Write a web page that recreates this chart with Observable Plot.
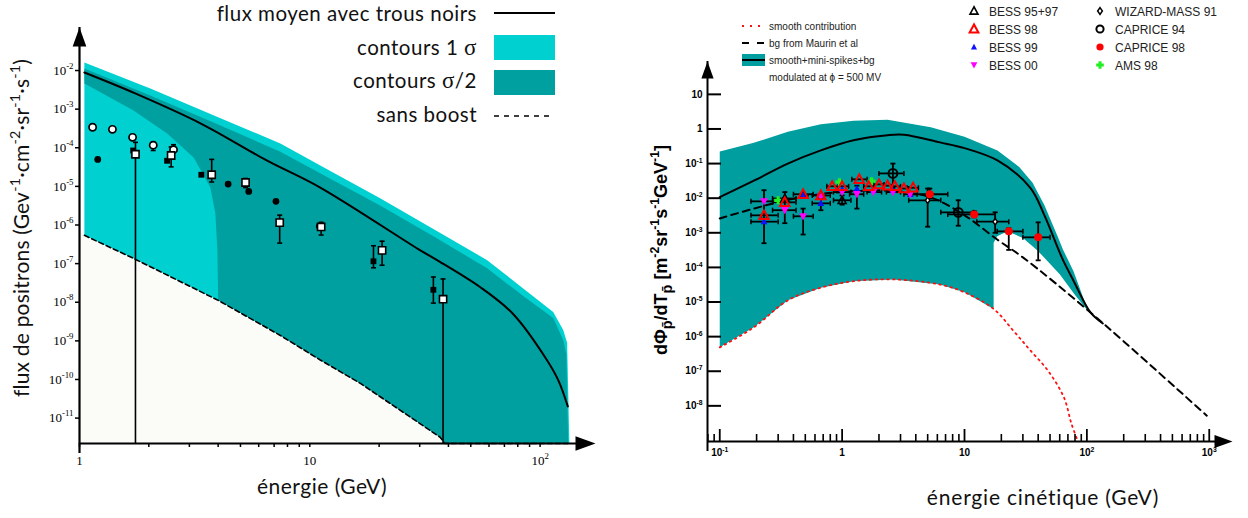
<!DOCTYPE html>
<html>
<head>
<meta charset="utf-8">
<script src="https://cdn.jsdelivr.net/npm/d3@7"></script>
<script src="https://cdn.jsdelivr.net/npm/@observablehq/plot@0.6"></script>
<style>
  html, body { margin: 0; padding: 0; background: #fff; color: #000; }
  #wrap { position: relative; width: 1248px; height: 518px; overflow: hidden; }
  #wrap svg { position: absolute; top: 0; }
</style>
</head>
<body>
<div id="wrap"></div>
<script>
// ===================== LEFT PANEL : positron flux =====================
const posFloor = 2.2e-12, posTop = 0.13, posEmin = 1, posEmax = 174;
const posYTicks = [1e-2, 1e-3, 1e-4, 1e-5, 1e-6, 1e-7, 1e-8, 1e-9, 1e-10, 1e-11];
const posXTicks = [1, 2, 3, 4, 5, 6, 7, 8, 9, 10, 20, 30, 40, 50, 60, 70, 80, 90, 100];
const posXLabels = [1, 10, 100];

// mean flux with black holes (solid)
const posMean = [[1.05, 8.9e-3], [1.71, 2.7e-3], [3.35, 4.3e-4], [6.5, 4.7e-5], [11.1, 9.3e-6], [30.2, 2.2e-7],
  [35.7, 1.23e-7], [55, 2.45e-8], [76, 5.1e-9], [107, 3.2e-10], [120, 9.5e-11], [132, 2.0e-11]];
// 1 sigma contour (upper edge)
const posSigma1Upper = [[1.05, 1.62e-2], [2.03, 3.4e-3], [4.0, 6.2e-4], [7.45, 1.29e-4], [12, 2.7e-5], [20.2, 4.9e-6],
  [35, 7.4e-7], [58.9, 1.23e-7], [85, 2.2e-8], [114, 5.6e-9], [126, 1.9e-9], [131, 8.9e-10], [134, posFloor]];
// sigma/2 contour edges
const posSigmaHalfUpper = [[1.05, 1.12e-2], [2.03, 2.24e-3], [4.0, 3.98e-4], [7.45, 7.9e-5], [12, 1.7e-5], [20.2, 3.2e-6],
  [35, 4.8e-7], [58.9, 7.6e-8], [85, 1.4e-8], [114, 3.9e-9], [126, 1.05e-9], [130, 4.5e-10], [132.5, posFloor]];
const posSigmaHalfLower = [[1.05, 4.6e-3], [1.71, 9.3e-4], [2.41, 2.3e-4], [3.13, 5.6e-5], [3.70, 9.3e-6],
  [3.89, 2.0e-6], [3.97, 2.2e-7], [4.0, 1.12e-8]];
// without boost (dashed)
const posSansBoost = [[1.0, 6.5e-7], [1.05, 5.4e-7], [1.71, 1.38e-7], [4.0, 1.12e-8], [7.45, 1.38e-9], [11.1, 3.2e-10],
  [16.6, 7.9e-11], [36.8, 3.2e-12], [38.6, posFloor]];
const posSansBoostEnd = 132;

// measured positron points
const posOpenCircles = [[1.14, 3.4e-4], [1.39, 3.0e-4], [1.70, 1.86e-4], [2.09, 1.17e-4], [2.56, 8.9e-5]];
const posOpenCircleErr = [[1.14, 2.9e-4, 4.0e-4], [2.09, 8.5e-5, 1.38e-4], [2.56, 7.9e-5, 1.2e-4]];
const posFilledCircles = [[1.2, 5.0e-5], [4.42, 1.15e-5], [5.43, 7.4e-6], [7.13, 4.1e-6], [11.0, 9.3e-7]];
const posFilledSquares = [[1.71, 8.5e-5], [2.4, 4.6e-5], [3.38, 2.0e-5], [18.9, 1.15e-7], [34.4, 2.1e-8]];
const posFilledSquareErr = [[18.9, 7.8e-8, 2.9e-7], [34.4, 9.5e-9, 4.5e-8]];
const posOpenSquares = [[1.75, 6.8e-5], [2.5, 6.3e-5], [3.75, 2.0e-5], [5.26, 1.26e-5], [7.4, 1.15e-6], [11.2, 8.9e-7],
  [20.6, 2.2e-7], [37.9, 1.2e-8]];
const posOpenSquareErr = [[1.75, posFloor, 1.38e-4], [2.5, 3.2e-5, 1.05e-4], [3.75, 1.3e-5, 5e-5], [5.26, 9.3e-6, 1.6e-5],
  [7.4, 3.4e-7, 1.8e-6], [11.2, 5.5e-7, 1.17e-6], [20.6, 9.1e-8, 3.8e-7], [37.9, posFloor, 4e-8]];

// ===================== RIGHT PANEL : antiproton flux =====================
const pbFloor = 9.33e-10, pbTop = 89, pbEmin = 0.0794, pbEmax = 1549;
const pbYTicks = [10, 1, 1e-1, 1e-2, 1e-3, 1e-4, 1e-5, 1e-6, 1e-7, 1e-8];
const pbXMajor = [0.1, 1, 10, 100, 1000];
const pbXMinor = [0.08, 0.09, 0.2, 0.3, 0.4, 0.5, 0.6, 0.7, 0.8, 0.9, 2, 3, 4, 5, 6, 7, 8, 9,
  20, 30, 40, 50, 60, 70, 80, 90, 200, 300, 400, 500, 600, 700, 800, 900];

const pbBandUpper = [[0.1, 0.224], [0.19, 0.398], [0.36, 0.83], [0.67, 1.38], [1.24, 1.74], [2.35, 1.86], [5.3, 1.12],
  [10, 0.60], [18.6, 0.24], [28, 8.0e-2], [36, 2.8e-2], [45, 6.3e-3], [57.6, 7.9e-4], [64, 3.2e-4], [77.6, 7.9e-5], [95, 1.12e-5], [107, 5.0e-6]];
// band lower edge after the jump (below 17.3 GeV it follows the smooth contribution)
const pbBandLowerHigh = [[17.3, 5.2e-4], [18.5, 8.0e-4], [21, 9.8e-4], [24, 1.0e-3], [30, 7.1e-4], [39.5, 3.1e-4], [60, 6.3e-5],
  [80, 1.6e-5], [101, 5.8e-6], [107, 5.0e-6]];
const pbSmooth = [[0.1, 4.9e-7], [0.19, 1.86e-6], [0.36, 1.12e-5], [0.67, 2.6e-5], [1.24, 4.0e-5], [2.63, 4.5e-5],
  [6.3, 3.2e-5], [10, 1.9e-5], [17.3, 6.3e-6], [25, 1.5e-6], [34.5, 4.0e-7], [48, 1.05e-7], [65, 1.74e-8], [74.5, 3.2e-9], [83, 1.1e-9]];
const pbJumpE = 17.3;
const pbBg = [[0.1, 2.6e-3], [0.19, 5.0e-3], [0.36, 8.9e-3], [0.67, 1.32e-2], [1.24, 1.58e-2], [2.35, 1.66e-2],
  [5.3, 1.05e-2], [10, 3.2e-3], [18.6, 6.3e-4], [30, 1.95e-4], [107, 5.0e-6], [955, 5.2e-9]];
const pbTotal = [[0.1, 1.07e-2], [0.19, 3.2e-2], [0.36, 0.1], [0.67, 0.24], [1.24, 0.47], [2.35, 0.66], [3.2, 0.68],
  [6.3, 0.41], [10, 0.28], [18.6, 0.123], [34.5, 2.0e-2], [45, 3.2e-3], [57.6, 3.8e-4], [64, 1.6e-4], [77.6, 4.2e-5],
  [107, 5.0e-6], [135, 2.4e-6]];

// experiments
const bess9597 = [[0.23, 3.2e-3], [0.34, 9.8e-3], [0.48, 1.25e-2], [1.0, 8.7e-3]];
const bess98 = [[0.23, 3.2e-3], [0.34, 7.6e-3], [0.48, 1.3e-2], [0.67, 1.2e-2], [0.83, 2.2e-2], [1.0, 2.2e-2], [1.38, 3.5e-2],
  [1.65, 2.2e-2], [2.0, 2.5e-2], [2.35, 2.3e-2], [2.7, 2.2e-2], [3.2, 1.9e-2], [3.8, 2.0e-2]];
const bess99 = [[0.23, 2.1e-3], [0.48, 1.2e-2], [0.67, 7.1e-3], [1.0, 1.8e-2], [1.32, 1.9e-2], [1.8, 1.7e-2], [2.6, 1.7e-2], [3.6, 1.3e-2]];
const bess00 = [[0.23, 8.1e-3], [0.34, 4.5e-3], [0.48, 3.0e-3], [0.67, 1.1e-2], [1.0, 1.5e-2], [1.32, 1.3e-2], [1.8, 1.5e-2],
  [2.6, 1.5e-2], [3.6, 1.3e-2]];
const wizard91 = [[5.0, 8.7e-3], [17.8, 2.1e-3]];
const caprice94 = [[2.6, 5.2e-2], [8.9, 3.9e-3]];
const caprice98 = [[5.2, 1.3e-2], [12, 3.4e-3], [23, 1.1e-3], [40, 7.4e-4]];
const ams98 = [[0.30, 8.7e-3], [0.95, 2.9e-2], [1.74, 3.1e-2]];
// horizontal error bars [Elo, Ehi, flux]
const pbErrH = [[0.18, 0.30, 8.1e-3], [0.18, 0.30, 3.2e-3], [0.18, 0.30, 2.1e-3], [0.27, 0.42, 9.8e-3], [0.27, 0.42, 7.6e-3],
  [0.27, 0.42, 4.5e-3], [0.40, 0.58, 1.3e-2], [0.40, 0.58, 3.0e-3], [0.57, 0.80, 1.2e-2], [0.57, 0.80, 7.1e-3],
  [0.75, 0.93, 2.2e-2], [0.93, 1.13, 2.2e-2], [0.85, 1.18, 8.7e-3], [0.85, 1.18, 1.5e-2], [1.2, 1.6, 3.5e-2],
  [1.15, 1.5, 1.3e-2], [1.5, 1.85, 2.2e-2], [1.6, 2.1, 1.5e-2], [1.8, 2.2, 2.5e-2], [2.15, 2.6, 2.3e-2], [2.3, 3.0, 1.5e-2],
  [2.5, 3.0, 2.2e-2], [2.9, 3.5, 1.9e-2], [3.4, 4.2, 2.0e-2], [3.2, 4.1, 1.3e-2], [2.0, 3.2, 5.2e-2], [3.5, 6.4, 8.7e-3],
  [3.6, 7.3, 1.3e-2], [6.4, 11.9, 3.9e-3], [7.3, 17.8, 3.4e-3], [12.6, 23, 2.1e-3], [18.5, 30, 1.1e-3], [30, 50, 7.4e-4]];
// vertical error bars [E, fluxLo, fluxHi]
const pbErrV = [[0.23, 5e-4, 1.7e-2], [0.34, 1.9e-3, 1.5e-2], [0.48, 8.9e-4, 5e-3], [0.67, 4.5e-3, 1e-2], [1.0, 6.5e-3, 1.2e-2],
  [1.32, 5e-3, 2.3e-2], [2.6, 2.0e-2, 0.1], [5.0, 1.5e-3, 1.9e-2], [5.2, 1.0e-2, 1.9e-2], [8.9, 1.6e-3, 8.7e-3],
  [12, 2.8e-3, 4.2e-3], [17.8, 1.0e-3, 3.9e-3], [23, 3.2e-4, 1.35e-3], [40, 1.6e-4, 2.0e-3]];

// ===================== helpers =====================
const X = d => d[0], Y = d => d[1];
const mk = f => ({draw(ctx, size) { f(ctx, Math.sqrt(size / Math.PI)); }});
const symHCap = mk((c, r) => { c.moveTo(-r, 0); c.lineTo(r, 0); });
const symVCap = mk((c, r) => { c.moveTo(0, -r); c.lineTo(0, r); });
const symTriUp = mk((c, r) => { c.moveTo(0, -r); c.lineTo(-r * 0.95, r * 0.75); c.lineTo(r * 0.95, r * 0.75); c.closePath(); });
const symTriDown = mk((c, r) => { c.moveTo(0, r); c.lineTo(-r * 0.95, -r * 0.75); c.lineTo(r * 0.95, -r * 0.75); c.closePath(); });
const symSquare = mk((c, r) => { c.moveTo(-r, -r); c.lineTo(r, -r); c.lineTo(r, r); c.lineTo(-r, r); c.closePath(); });
const symDiamond = mk((c, r) => { c.moveTo(0, -r); c.lineTo(r * 0.7, 0); c.lineTo(0, r); c.lineTo(-r * 0.7, 0); c.closePath(); });
const symPlus = mk((c, a) => { const b = a * 0.4;
  c.moveTo(-b, -a); c.lineTo(b, -a); c.lineTo(b, -b); c.lineTo(a, -b); c.lineTo(a, b); c.lineTo(b, b); c.lineTo(b, a);
  c.lineTo(-b, a); c.lineTo(-b, b); c.lineTo(-a, b); c.lineTo(-a, -b); c.lineTo(-b, -b); c.closePath(); });
const symArrowUp = mk((c, r) => { c.moveTo(0, 0); c.lineTo(-r * 0.36, r); c.lineTo(r * 0.36, r); c.closePath(); });
const symArrowRight = mk((c, r) => { c.moveTo(0, 0); c.lineTo(-r, -r * 0.36); c.lineTo(-r, r * 0.36); c.closePath(); });

const fmtPow = d => { const e = Math.round(Math.log10(d)); return e === 0 ? "1" : e === 1 ? "10" : "10^" + e; };

function supify(svg, fs) {
  d3.select(svg).selectAll("text").each(function() {
    const t = this.textContent;
    if (!t || !t.includes("^")) return;
    const [b, e] = t.split("^");
    const s = d3.select(this); s.text(null);
    s.append("tspan").text(b);
    s.append("tspan").attr("font-size", fs * 0.68).attr("baseline-shift", fs * 0.45).text(e);
  });
}
// parts: [text, kind] kind 0 normal, 1 superscript, -1 subscript
function rich(sel, parts, fs) {
  for (const [s, k, extra] of parts) {
    const t = sel.append("tspan").text(s);
    if (k === 1) t.attr("font-size", fs * 0.68).attr("baseline-shift", fs * 0.42);
    if (k === -1) t.attr("font-size", fs * 0.8).attr("baseline-shift", -fs * 0.28);
    if (extra) for (const a in extra) t.attr(a, extra[a]);
  }
}
function vErrMarks(arr, floor, r, sw) {
  const caps = arr.flatMap(d => [[d[0], d[1]], [d[0], d[2]]]).filter(d => d[1] > floor);
  return [
    Plot.ruleX(arr, {x: X, y1: d => d[1], y2: d => d[2], stroke: "black", strokeWidth: sw}),
    Plot.dot(caps, {x: X, y: Y, symbol: symHCap, r, stroke: "black", strokeWidth: sw, fill: "none"})
  ];
}

// ===================== LEFT CHART =====================
const cyanPoly = [...posSigma1Upper, ...posSansBoost.slice(1).reverse()];
const tealPoly = [...posSigmaHalfUpper, ...posSansBoost.filter(d => d[0] >= 4.0).reverse(),
  ...posSigmaHalfLower.slice(0, -1).reverse()];
const offPoly = [...posSansBoost, [posEmin, posFloor]];
const sansLine = [...posSansBoost.slice(1), [posSansBoostEnd, posFloor]];

const left = Plot.plot({
  width: 615, height: 518,
  marginLeft: 79, marginRight: 20, marginTop: 27, marginBottom: 75,
  style: {background: "transparent", overflow: "visible", fontFamily: "Liberation Serif", color: "black"},
  x: {type: "log", domain: [posEmin, posEmax]},
  y: {type: "log", domain: [posFloor, posTop]},
  marks: [
    Plot.line(offPoly, {x: X, y: Y, fill: "#fbfbf8", stroke: "none"}),
    Plot.line(cyanPoly, {x: X, y: Y, fill: "#00d0d0", stroke: "none"}),
    Plot.line(tealPoly, {x: X, y: Y, fill: "#00a0a0", stroke: "none"}),
    Plot.ruleY([posFloor], {x1: posEmin, x2: posEmax, strokeWidth: 2, insetRight: 10}),
    Plot.ruleX([posEmin], {y1: posFloor, y2: posTop, strokeWidth: 2.2, insetTop: 10}),
    Plot.line(sansLine, {x: X, y: Y, stroke: "black", strokeWidth: 1.6, strokeDasharray: "5,3"}),
    Plot.line(posMean, {x: X, y: Y, stroke: "black", strokeWidth: 2, curve: "catmull-rom"}),
    ...vErrMarks(posOpenSquareErr, posFloor, 2.5, 1.6),
    ...vErrMarks(posFilledSquareErr, posFloor, 2.5, 1.6),
    ...vErrMarks(posOpenCircleErr, posFloor, 2.5, 1.6),
    Plot.dot(posOpenCircles, {x: X, y: Y, r: 3.6, fill: "white", stroke: "black", strokeWidth: 1.7}),
    Plot.dot(posFilledCircles, {x: X, y: Y, r: 3.4, fill: "black", stroke: "none"}),
    Plot.dot(posFilledSquares, {x: X, y: Y, symbol: symSquare, r: 2.9, fill: "black", stroke: "none"}),
    Plot.dot(posOpenSquares, {x: X, y: Y, symbol: symSquare, r: 3.6, fill: "white", stroke: "black", strokeWidth: 1.6}),
    Plot.dot([[posEmin, posTop]], {x: X, y: Y, symbol: symArrowUp, r: 19, fill: "black", stroke: "none"}),
    Plot.dot([[posEmax, posFloor]], {x: X, y: Y, symbol: symArrowRight, r: 20, fill: "black", stroke: "none"}),
    Plot.axisY({ticks: posYTicks, tickSize: 4, tickPadding: 2, tickFormat: fmtPow, fontSize: 13, label: null,
      strokeWidth: 1.5, fill: "black"}),
    Plot.axisX({ticks: posXTicks, tickSize: 4, tickPadding: 8,
      tickFormat: d => posXLabels.includes(d) ? fmtPow(d) : "", fontSize: 13, label: null, strokeWidth: 1.5, fill: "black"})
  ]
});
supify(left, 13);
{
  const s = d3.select(left);
  const yl = s.append("text").attr("transform", "translate(29,228) rotate(-90)").attr("text-anchor", "middle")
    .attr("font-family", "Lato").attr("font-size", 21).attr("letter-spacing", 0.2).attr("fill", "#111");
  rich(yl, [["flux de positrons (Gev", 0], ["-1", 1], ["·cm", 0], ["-2", 1], ["·sr", 0], ["-1", 1], ["·s", 0], ["-1", 1], [")", 0]], 21);
  s.append("text").attr("x", 322).attr("y", 494).attr("text-anchor", "middle").attr("font-family", "Lato")
    .attr("font-size", 21).attr("letter-spacing", 0.5).attr("fill", "#111").text("énergie (GeV)");
  // legend
  const g = s.append("g").attr("font-family", "Lato").attr("font-size", 20.5).attr("letter-spacing", 0.5)
    .attr("fill", "#111").attr("text-anchor", "end");
  g.append("text").attr("x", 477).attr("y", 21).text("flux moyen avec trous noirs");
  const t1 = g.append("text").attr("x", 477).attr("y", 55);
  rich(t1, [["contours 1 ", 0], ["σ", 0, {"font-family": "Liberation Serif", "font-size": 23}]], 20.5);
  const t2 = g.append("text").attr("x", 477).attr("y", 88);
  rich(t2, [["contours ", 0], ["σ", 0, {"font-family": "Liberation Serif", "font-size": 23}], ["/2", 0]], 20.5);
  g.append("text").attr("x", 477).attr("y", 122).text("sans boost");
  s.append("line").attr("x1", 494).attr("x2", 555).attr("y1", 13).attr("y2", 13).attr("stroke", "black").attr("stroke-width", 2);
  s.append("rect").attr("x", 494).attr("y", 35).attr("width", 61).attr("height", 25).attr("fill", "#00d0d0");
  s.append("rect").attr("x", 494).attr("y", 70).attr("width", 61).attr("height", 25).attr("fill", "#00a0a0");
  s.append("line").attr("x1", 494).attr("x2", 553).attr("y1", 116).attr("y2", 116).attr("stroke", "black")
    .attr("stroke-width", 1.6).attr("stroke-dasharray", "5,5");
}
left.style.left = "0px";
document.getElementById("wrap").append(left);

// ===================== RIGHT CHART =====================
const bandPoly = [...pbBandUpper, ...pbBandLowerHigh.slice().reverse(), ...pbSmooth.filter(d => d[0] <= pbJumpE).reverse()];
const hErrCaps = pbErrH.flatMap(d => [[d[0], d[2]], [d[1], d[2]]]);
const txt = {fontFamily: "Liberation Sans", fontWeight: "bold", fontSize: 10, fill: "black"};

const right = Plot.plot({
  width: 633, height: 518,
  marginLeft: 92, marginRight: 16, marginTop: 61, marginBottom: 77,
  style: {background: "transparent", overflow: "visible", fontFamily: "Liberation Sans", color: "black"},
  x: {type: "log", domain: [pbEmin, pbEmax]},
  y: {type: "log", domain: [pbFloor, pbTop]},
  marks: [
    Plot.line(bandPoly, {x: X, y: Y, fill: "#009e9e", stroke: "none", curve: "linear"}),
    Plot.line(pbSmooth, {x: X, y: Y, stroke: "#ff1010", strokeWidth: 1.8, strokeDasharray: "1.6,4.2", curve: "catmull-rom"}),
    Plot.line(pbBg, {x: X, y: Y, stroke: "black", strokeWidth: 2, strokeDasharray: "7,5", curve: "catmull-rom"}),
    Plot.line(pbTotal, {x: X, y: Y, stroke: "black", strokeWidth: 2, curve: "catmull-rom"}),
    Plot.ruleY(pbErrH, {x1: d => d[0], x2: d => d[1], y: d => d[2], stroke: "black", strokeWidth: 1.8}),
    Plot.dot(hErrCaps, {x: X, y: Y, symbol: symVCap, r: 2.5, stroke: "black", strokeWidth: 1.5, fill: "none"}),
    ...vErrMarks(pbErrV, pbFloor, 2.5, 1.8),
    Plot.dot(ams98, {x: X, y: Y, symbol: symPlus, r: 4, fill: "#22ee22", stroke: "none"}),
    Plot.dot(bess9597, {x: X, y: Y, symbol: symTriUp, r: 4.2, fill: "none", stroke: "black", strokeWidth: 1.6}),
    Plot.dot(bess99, {x: X, y: Y, symbol: symTriUp, r: 3.6, fill: "#1010ff", stroke: "none"}),
    Plot.dot(bess00, {x: X, y: Y, symbol: symTriDown, r: 4.2, fill: "#ff00ff", stroke: "none"}),
    Plot.dot(bess98, {x: X, y: Y, symbol: symTriUp, r: 5, fill: "none", stroke: "#ff0000", strokeWidth: 2}),
    Plot.dot(wizard91, {x: X, y: Y, symbol: symDiamond, r: 3.2, fill: "white", stroke: "black", strokeWidth: 1.5}),
    Plot.dot(caprice94, {x: X, y: Y, r: 4.4, fill: "none", stroke: "black", strokeWidth: 2}),
    Plot.dot(caprice98, {x: X, y: Y, r: 4, fill: "#ff0000", stroke: "none"}),
    Plot.ruleY([pbFloor], {x1: pbEmin, x2: pbEmax, strokeWidth: 2, insetRight: 10}),
    Plot.ruleX([pbEmin], {y1: pbFloor, y2: pbTop, strokeWidth: 2, insetTop: 10}),
    Plot.dot([[pbEmin, pbTop]], {x: X, y: Y, symbol: symArrowUp, r: 17, fill: "black", stroke: "none"}),
    Plot.dot([[pbEmax, pbFloor]], {x: X, y: Y, symbol: symArrowRight, r: 18, fill: "black", stroke: "none"}),
    Plot.axisY({ticks: pbYTicks, tickSize: 14, dx: 14, tickFormat: () => "", label: null, strokeWidth: 2}),
    Plot.axisY({ticks: pbYTicks, tickSize: 0, tickPadding: 5, tickFormat: fmtPow, label: null, ...txt}),
    Plot.axisX({ticks: pbXMajor, tickSize: 12, dy: -12, tickFormat: () => "", label: null, strokeWidth: 1.8}),
    Plot.axisX({ticks: pbXMinor, tickSize: 7, dy: -7, tickFormat: () => "", label: null, strokeWidth: 1.6}),
    Plot.axisX({ticks: pbXMajor, tickSize: 0, tickPadding: 7, tickFormat: fmtPow, label: null, ...txt})
  ]
});
supify(right, 10);
{
  const s = d3.select(right);
  const yl = s.append("text").attr("transform", "translate(52,250) rotate(-90)").attr("text-anchor", "middle")
    .attr("font-family", "Liberation Sans").attr("font-weight", "bold").attr("font-size", 18).attr("fill", "black");
  rich(yl, [["dΦ", 0], ["p̄", -1], ["/dT", 0], ["p̄", -1], [" [m", 0], ["-2", 1], ["sr", 0], ["-1", 1], ["s", 0], ["-1", 1],
    ["GeV", 0], ["-1", 1], ["]", 0]], 18);
  s.append("text").attr("x", 428).attr("y", 505).attr("text-anchor", "middle").attr("font-family", "Lato")
    .attr("font-size", 21).attr("letter-spacing", 0.8).attr("fill", "#111").text("énergie cinétique (GeV)");
  // model legend
  const lg = s.append("g").attr("font-family", "Liberation Sans").attr("font-size", 10).attr("fill", "#222")
    .attr("text-anchor", "start");
  lg.append("line").attr("x1", 127).attr("x2", 148).attr("y1", 26).attr("y2", 26).attr("stroke", "#ff1010")
    .attr("stroke-width", 2).attr("stroke-dasharray", "2,6");
  lg.append("line").attr("x1", 127).attr("x2", 150).attr("y1", 43).attr("y2", 43).attr("stroke", "black")
    .attr("stroke-width", 2.2).attr("stroke-dasharray", "7,8");
  lg.append("rect").attr("x", 127).attr("y", 54).attr("width", 23).attr("height", 12).attr("fill", "#009e9e");
  lg.append("line").attr("x1", 127).attr("x2", 150).attr("y1", 60).attr("y2", 60).attr("stroke", "black").attr("stroke-width", 2);
  [["smooth contribution", 30], ["bg from Maurin et al", 47], ["smooth+mini-spikes+bg", 64], ["modulated at ϕ = 500 MV", 81]]
    .forEach(([t, y]) => lg.append("text").attr("x", 154).attr("y", y).text(t));
  // data legend
  const dg = s.append("g").attr("font-family", "Liberation Sans").attr("font-size", 12).attr("fill", "#222")
    .attr("text-anchor", "start");
  const sym = (obj, r) => d3.symbol(obj, Math.PI * r * r)();
  const items = [
    [359, 11, "BESS 95+97", sym(symTriUp, 4.2), "none", "black", 1.6],
    [359, 29, "BESS 98", sym(symTriUp, 4.6), "none", "#ff0000", 2],
    [359, 47, "BESS 99", sym(symTriUp, 3.2), "#1010ff", "none", 0],
    [359, 65, "BESS 00", sym(symTriDown, 3.6), "#ff00ff", "none", 0],
    [485, 11, "WIZARD-MASS 91", sym(symDiamond, 3.4), "white", "black", 1.5],
    [485, 29, "CAPRICE 94", d3.symbol(d3.symbolCircle, Math.PI * 3.6 * 3.6)(), "none", "black", 2],
    [485, 47, "CAPRICE 98", d3.symbol(d3.symbolCircle, Math.PI * 3.6 * 3.6)(), "#ff0000", "none", 0],
    [485, 65, "AMS 98", sym(symPlus, 3.8), "#22ee22", "none", 0]
  ];
  for (const [x, y, t, d, fill, stroke, sw] of items) {
    dg.append("path").attr("transform", `translate(${x},${y})`).attr("d", d).attr("fill", fill)
      .attr("stroke", stroke).attr("stroke-width", sw);
    dg.append("text").attr("x", x + 15).attr("y", y + 4.5).text(t);
  }
}
right.style.left = "615px";
document.getElementById("wrap").append(right);
</script>
</body>
</html>
